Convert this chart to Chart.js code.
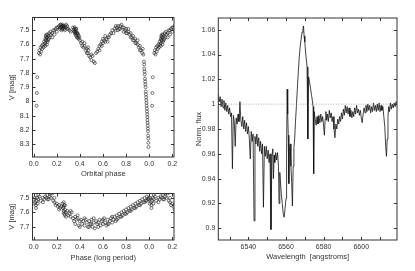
<!DOCTYPE html>
<html>
<head>
<meta charset="utf-8">
<script src="https://cdn.jsdelivr.net/npm/chart.js@4.4.0/dist/chart.umd.min.js"></script>
<style>
  body { margin: 0; background: #fff; }
  #wrap { position: relative; width: 415px; height: 271px; }
  canvas { position: absolute; }
</style>
</head>
<body>
<div id="wrap">
  <canvas id="orbital" width="190" height="180" style="left:0;top:0"></canvas>
  <canvas id="longp" width="190" height="95" style="left:0;top:176px"></canvas>
  <canvas id="spec" width="230" height="271" style="left:185px;top:0"></canvas>
</div>
<script>
// V light curve folded on the orbital period
const orbPhase = [
  0.025, 0.028, 0.031,
  0.045, 0.05, 0.055, 0.06, 0.065, 0.07, 0.075, 0.08, 0.085,
  0.09, 0.095, 0.10, 0.10, 0.105, 0.11, 0.11, 0.115, 0.12, 0.125, 0.13, 0.135, 0.14, 0.145, 0.15,
  0.16, 0.17, 0.18, 0.19, 0.20, 0.21,
  0.22, 0.225, 0.23, 0.235, 0.24, 0.245, 0.25, 0.255, 0.26, 0.265, 0.27, 0.28, 0.29, 0.30, 0.31, 0.32,
  0.34, 0.345, 0.35, 0.355, 0.36, 0.36, 0.365, 0.37, 0.37, 0.375, 0.38, 0.385, 0.39, 0.395,
  0.40, 0.41, 0.42, 0.43, 0.44, 0.45, 0.46, 0.47, 0.475, 0.48,
  0.49, 0.50, 0.50, 0.51, 0.52, 0.53,
  0.54, 0.55, 0.56, 0.57, 0.58, 0.59, 0.60, 0.61, 0.62, 0.63, 0.64, 0.65, 0.66,
  0.67, 0.68, 0.69, 0.70, 0.71, 0.72, 0.73, 0.74, 0.75, 0.76, 0.77,
  0.78, 0.79, 0.80, 0.81, 0.82, 0.83, 0.84, 0.85, 0.86, 0.87, 0.88, 0.89, 0.90, 0.91, 0.92, 0.93, 0.94, 0.945, 0.95,
  0.955, 0.957, 0.958, 0.960, 0.962, 0.964, 0.965, 0.967, 0.969, 0.970,
  0.972, 0.974, 0.975, 0.977, 0.978, 0.980, 0.981, 0.983, 0.984, 0.985,
  0.987, 0.988, 0.989, 0.990, 0.991, 0.992, 0.993, 0.994,
  0.10, 0.105, 0.11, 0.115, 0.12, 0.125, 0.16, 0.18, 0.20,
  0.23, 0.235, 0.24, 0.245, 0.25, 0.255, 0.26, 0.27, 0.28, 0.29,
  0.35, 0.355, 0.36, 0.365, 0.37, 0.375, 0.38, 0.39,
  0.42, 0.44, 0.46, 0.47, 0.57, 0.59, 0.60, 0.62, 0.64,
  0.71, 0.73, 0.75, 0.78, 0.80, 0.82, 0.84, 0.86, 0.88, 0.90, 0.92
];
const orbMag = [
  8.03, 7.94, 7.83,
  7.66, 7.64, 7.67, 7.62, 7.65, 7.61, 7.63, 7.60, 7.62,
  7.58, 7.60, 7.56, 7.59, 7.54, 7.57, 7.53, 7.55, 7.58, 7.54, 7.56, 7.52, 7.55, 7.51, 7.53,
  7.52, 7.50, 7.53, 7.49, 7.51, 7.48,
  7.47, 7.49, 7.46, 7.48, 7.47, 7.49, 7.46, 7.48, 7.47, 7.49, 7.47, 7.48, 7.47, 7.49, 7.50, 7.51,
  7.48, 7.50, 7.49, 7.51, 7.50, 7.53, 7.52, 7.49, 7.54, 7.52, 7.55, 7.53, 7.56, 7.55,
  7.57, 7.59, 7.58, 7.62, 7.61, 7.64, 7.63, 7.66, 7.64, 7.68,
  7.69, 7.67, 7.71, 7.68, 7.72, 7.73,
  7.66, 7.65, 7.63, 7.61, 7.60, 7.58, 7.56, 7.57, 7.54, 7.56, 7.58, 7.55, 7.53,
  7.52, 7.50, 7.52, 7.49, 7.50, 7.48, 7.47, 7.49, 7.47, 7.46, 7.48,
  7.48, 7.50, 7.49, 7.52, 7.51, 7.53, 7.52, 7.55, 7.54, 7.57, 7.56, 7.59, 7.60, 7.62, 7.61, 7.64, 7.66, 7.63, 7.67,
  7.72, 7.74, 7.77, 7.79, 7.81, 7.84, 7.86, 7.88, 7.90, 7.93,
  7.95, 7.97, 7.99, 8.01, 8.03, 8.05, 8.07, 8.09, 8.11, 8.13,
  8.15, 8.17, 8.19, 8.21, 8.24, 8.26, 8.29, 8.32,
  7.61, 7.57, 7.55, 7.60, 7.53, 7.57, 7.55, 7.50, 7.48,
  7.48, 7.46, 7.50, 7.47, 7.49, 7.47, 7.48, 7.50, 7.46, 7.49,
  7.51, 7.48, 7.52, 7.49, 7.51, 7.55, 7.52, 7.54,
  7.61, 7.59, 7.66, 7.62, 7.64, 7.61, 7.59, 7.58, 7.55,
  7.47, 7.50, 7.49, 7.51, 7.52, 7.49, 7.55, 7.57, 7.59, 7.57, 7.64
];

// V folded on the long period
const lpPhase = [
  0.00, 0.005, 0.01, 0.015, 0.02, 0.025, 0.03, 0.035, 0.04, 0.05,
  0.06, 0.07, 0.08, 0.09, 0.10, 0.11, 0.12, 0.13, 0.14, 0.15,
  0.16, 0.17, 0.18, 0.19, 0.20, 0.21, 0.22, 0.23, 0.24, 0.25,
  0.255, 0.26, 0.26, 0.265, 0.265, 0.27, 0.27, 0.28, 0.29, 0.30,
  0.31, 0.32, 0.33, 0.34, 0.35, 0.36, 0.37, 0.38, 0.39, 0.40,
  0.41, 0.42, 0.43, 0.44, 0.45, 0.46, 0.47, 0.48, 0.49, 0.50,
  0.51, 0.52, 0.53, 0.54, 0.55, 0.56, 0.57, 0.58, 0.59, 0.60,
  0.61, 0.62, 0.63, 0.64, 0.65, 0.66, 0.67, 0.68, 0.69, 0.70,
  0.71, 0.72, 0.73, 0.74, 0.75, 0.76, 0.77, 0.78, 0.79, 0.80,
  0.81, 0.82, 0.83, 0.84, 0.85, 0.86, 0.87, 0.88, 0.89, 0.90,
  0.91, 0.92, 0.93, 0.94, 0.95, 0.96, 0.97, 0.98, 0.99, 0.995,
  0.02, 0.04, 0.08, 0.12, 0.14, 0.18, 0.22, 0.26, 0.26, 0.27,
  0.28, 0.32, 0.36, 0.38, 0.40, 0.44, 0.48, 0.50, 0.52, 0.56,
  0.60, 0.64, 0.68, 0.72, 0.76, 0.80, 0.84, 0.88, 0.92, 0.96, 0.98
];
const lpMag = [
  7.51, 7.54, 7.50, 7.53, 7.55, 7.52, 7.50, 7.54, 7.51, 7.49,
  7.52, 7.46, 7.50, 7.51, 7.49, 7.50, 7.48, 7.51, 7.49, 7.50,
  7.47, 7.52, 7.53, 7.55, 7.54, 7.56, 7.55, 7.57, 7.56, 7.54,
  7.57, 7.53, 7.59, 7.55, 7.61, 7.58, 7.62, 7.60, 7.59, 7.62,
  7.61, 7.63, 7.60, 7.64, 7.66, 7.63, 7.65, 7.64, 7.69, 7.66,
  7.65, 7.68, 7.66, 7.69, 7.65, 7.67, 7.70, 7.66, 7.68, 7.65,
  7.70, 7.67, 7.71, 7.66, 7.68, 7.67, 7.65, 7.69, 7.66, 7.68,
  7.64, 7.67, 7.69, 7.65, 7.68, 7.66, 7.64, 7.67, 7.65, 7.63,
  7.66, 7.62, 7.64, 7.61, 7.63, 7.60, 7.62, 7.59, 7.61, 7.58,
  7.60, 7.57, 7.59, 7.56, 7.58, 7.55, 7.57, 7.54, 7.56, 7.53,
  7.55, 7.52, 7.54, 7.51, 7.53, 7.50, 7.52, 7.49, 7.51, 7.50,
  7.57, 7.48, 7.53, 7.51, 7.47, 7.50, 7.58, 7.56, 7.60, 7.55,
  7.63, 7.59, 7.68, 7.62, 7.70, 7.64, 7.70, 7.68, 7.64, 7.70,
  7.65, 7.68, 7.63, 7.65, 7.63, 7.61, 7.59, 7.57, 7.55, 7.53, 7.52
];

// normalised spectrum around H-alpha
const wave = [
  6524.0, 6524.5, 6525.0, 6525.5, 6526.0, 6526.5, 6527.0, 6527.5, 6528.0, 6528.5,
  6529.0, 6529.5, 6530.0, 6530.5, 6531.0, 6531.5, 6532.0, 6532.5, 6533.0, 6533.5,
  6534.0, 6534.5, 6535.0, 6535.5, 6536.0, 6536.5, 6537.0, 6537.5, 6538.0, 6538.5,
  6539.0, 6539.5, 6540.0, 6540.5, 6541.0, 6541.5, 6542.0, 6542.5, 6543.0, 6543.5,
  6544.0, 6544.5, 6545.0, 6545.5, 6546.0, 6546.5, 6547.0, 6547.5, 6548.0, 6548.5,
  6549.0, 6549.5, 6550.0, 6550.5, 6551.0, 6551.5, 6552.0, 6552.5, 6553.0, 6553.3,
  6553.7, 6554.0, 6554.5, 6555.0, 6555.5, 6556.0, 6556.3, 6556.7, 6557.0, 6557.5,
  6558.0, 6558.5, 6559.0, 6559.5, 6560.0, 6560.3, 6560.6, 6560.9, 6561.2, 6561.5,
  6561.8, 6562.2, 6562.6, 6563.0, 6563.4, 6563.8, 6564.2, 6564.6, 6565.0, 6565.5,
  6566.0, 6566.5, 6567.0, 6567.5, 6568.0, 6568.5, 6569.0, 6569.3, 6569.6, 6570.0,
  6570.4, 6570.8, 6571.2, 6571.6, 6572.0, 6572.5, 6573.0, 6573.5, 6574.0, 6574.4,
  6574.7, 6575.0, 6575.5, 6576.0, 6576.5, 6577.0, 6577.5, 6578.0, 6578.5, 6579.0,
  6579.5, 6580.0, 6580.4, 6580.8, 6581.2, 6581.6, 6582.0, 6582.5, 6583.0, 6583.5,
  6584.0, 6584.5, 6585.0, 6585.5, 6586.0, 6586.5, 6587.0, 6587.5, 6588.0, 6588.5,
  6589.0, 6589.5, 6590.0, 6590.5, 6591.0, 6591.5, 6592.0, 6592.5, 6593.0, 6593.5,
  6594.0, 6594.5, 6595.0, 6595.5, 6596.0, 6596.5, 6597.0, 6597.5, 6598.0, 6598.5,
  6599.0, 6599.5, 6600.0, 6600.5, 6601.0, 6601.5, 6602.0, 6602.5, 6603.0, 6603.5,
  6604.0, 6604.5, 6605.0, 6605.5, 6606.0, 6606.5, 6607.0, 6607.5, 6608.0, 6608.5,
  6609.0, 6609.5, 6610.0, 6610.5, 6611.0, 6611.5, 6612.0, 6612.5, 6613.0, 6613.4,
  6613.8, 6614.2, 6614.6, 6615.0, 6615.5, 6616.0, 6616.5, 6617.0, 6617.5, 6618.0,
  6618.5, 6619.0
];
const flux = [
  1.008, 1.002, 1.006, 0.998, 1.004, 0.997, 1.003, 0.995, 1.001, 0.994,
  0.999, 0.992, 0.997, 0.990, 0.993, 0.948, 0.991, 0.986, 0.966, 0.989,
  0.984, 0.992, 0.986, 1.002, 0.987, 0.982, 0.990, 0.980, 0.987, 0.978,
  0.985, 0.976, 0.982, 0.972, 0.956, 0.978, 0.970, 0.976, 0.906, 0.974,
  0.968, 0.976, 0.966, 0.973, 0.962, 0.970, 0.960, 0.968, 0.917, 0.966,
  0.958, 0.966, 0.956, 0.963, 0.953, 0.960, 0.899, 0.958, 0.964, 0.940,
  0.959, 0.953, 0.961, 0.955, 0.961, 0.950, 0.920, 0.945, 0.938, 0.928,
  0.920, 0.912, 0.909, 0.916, 0.924, 0.960, 1.012, 0.992, 0.975, 0.936,
  0.962, 0.968, 0.950, 0.937, 0.918, 0.950, 0.965, 0.972, 0.985, 0.998,
  1.012, 1.025, 1.037, 1.046, 1.052, 1.058, 1.061, 1.063, 1.055, 1.050,
  1.042, 1.036, 1.030, 0.972, 1.022, 1.018, 1.013, 1.008, 1.003, 0.998,
  0.944, 0.994, 0.988, 0.983, 0.990, 0.984, 0.991, 0.985, 0.992, 0.986,
  0.990, 0.982, 0.975, 0.988, 0.994, 0.987, 0.992, 0.986, 0.995, 0.989,
  0.993, 0.986, 0.990, 0.980, 0.973, 0.984, 0.980, 0.988, 0.984, 0.990,
  0.986, 0.993, 0.988, 0.996, 0.991, 0.999, 0.993, 0.998, 0.992, 0.997,
  0.990, 0.995, 0.989, 0.994, 0.990, 0.997, 0.992, 0.999, 0.993, 0.996,
  0.991, 0.995, 0.989, 0.985, 0.992, 0.997, 0.993, 0.999, 0.994, 1.000,
  0.995, 0.999, 0.993, 0.998, 0.994, 1.001, 0.995, 0.999, 0.994, 1.000,
  0.995, 1.001, 0.994, 0.999, 0.995, 0.998, 0.990, 0.982, 0.966, 0.958,
  0.972, 0.990, 0.998, 0.994, 1.001, 0.996, 1.000, 0.997, 1.001, 0.998,
  1.002, 1.000
];

const phaseTicks = [0, 0.2, 0.4, 0.6, 0.8, 1.0, 1.2];
const orbMagTicks = [7.5, 7.6, 7.7, 7.8, 7.9, 8.0, 8.1, 8.2, 8.3];
const lpMagTicks = [7.5, 7.6, 7.7];
const waveTicks = [6530, 6540, 6550, 6560, 6570, 6580, 6590, 6600, 6610];
const fluxTicks = [0.9, 0.92, 0.94, 0.96, 0.98, 1, 1.02, 1.04, 1.06];

const FONT = "'Liberation Sans', Arial, sans-serif";
const INK = '#333';

// points with phase below 0.22 are plotted a second time one cycle later
const folded = (ph, mag) => {
  const pts = [];
  ph.forEach((p, i) => {
    pts.push({ x: p, y: mag[i] });
    if (p < 0.225) pts.push({ x: p + 1, y: mag[i] });
  });
  return pts;
};

// gnuplot-like box with inward ticks on every side
const frame = {
  id: 'frame',
  afterDraw(chart) {
    const { ctx, chartArea: a, scales: { x, y } } = chart;
    ctx.save();
    ctx.strokeStyle = INK;
    ctx.lineWidth = 1;
    ctx.strokeRect(a.left, a.top, a.right - a.left, a.bottom - a.top);
    ctx.beginPath();
    x.ticks.forEach(t => {
      const px = Math.round(x.getPixelForValue(t.value)) + 0.5;
      ctx.moveTo(px, a.bottom); ctx.lineTo(px, a.bottom - 3);
      ctx.moveTo(px, a.top); ctx.lineTo(px, a.top + 3);
    });
    y.ticks.forEach(t => {
      const py = Math.round(y.getPixelForValue(t.value)) + 0.5;
      ctx.moveTo(a.left, py); ctx.lineTo(a.left + 3, py);
      ctx.moveTo(a.right, py); ctx.lineTo(a.right - 3, py);
    });
    ctx.stroke();
    ctx.restore();
  }
};

const setTicks = vals => scale => { scale.ticks = vals.map(v => ({ value: v })); };
const plain = v => String(Number(v.toFixed(3)));

function axis(o) {
  return {
    type: 'linear',
    min: o.min, max: o.max,
    reverse: !!o.reverse,
    grid: { display: false, drawTicks: false },
    border: { display: false },
    afterBuildTicks: setTicks(o.ticks),
    afterFit: s => { if (o.width) s.width = o.width; if (o.height) s.height = o.height; },
    ticks: {
      autoSkip: false, maxRotation: 0, padding: 3,
      color: INK, font: { family: FONT, size: 7 },
      callback: o.label || plain
    },
    title: {
      display: true, text: o.title, color: INK,
      font: { family: FONT, size: 7.5 },
      padding: o.titlePad
    }
  };
}

const phaseLabel = v => ((Math.round(v * 10) % 10) / 10).toFixed(1);
const dots = { pointRadius: 1.5, pointBorderWidth: 0.6, borderColor: '#222', backgroundColor: 'rgba(0,0,0,0)', showLine: false };

Chart.defaults.animation = false;

new Chart(document.getElementById('orbital'), {
  type: 'scatter',
  data: { datasets: [Object.assign({ data: folded(orbPhase, orbMag) }, dots)] },
  options: {
    responsive: false,
    layout: { padding: { top: 17.5, right: 16, left: 0, bottom: 0 } },
    plugins: { legend: { display: false }, tooltip: { enabled: false } },
    scales: {
      x: axis({ min: -0.01, max: 1.215, ticks: phaseTicks, label: phaseLabel, height: 23, title: 'Orbital phase', titlePad: { top: 0, bottom: 1.5 } }),
      y: axis({ min: 7.41, max: 8.39, reverse: true, ticks: orbMagTicks, width: 32.5, title: 'V [mag]', titlePad: { top: 7, bottom: 0 } })
    }
  },
  plugins: [frame]
});

new Chart(document.getElementById('longp'), {
  type: 'scatter',
  data: { datasets: [Object.assign({ data: folded(lpPhase, lpMag) }, dots)] },
  options: {
    responsive: false,
    layout: { padding: { top: 17.5, right: 16, left: 0, bottom: 0 } },
    plugins: { legend: { display: false }, tooltip: { enabled: false } },
    scales: {
      x: axis({ min: -0.01, max: 1.215, ticks: phaseTicks, label: phaseLabel, height: 31, title: 'Phase (long period)', titlePad: { top: 0, bottom: 8.8 } }),
      y: axis({ min: 7.47, max: 7.79, reverse: true, ticks: lpMagTicks, width: 32.5, title: 'V [mag]', titlePad: { top: 7, bottom: 0 } })
    }
  },
  plugins: [frame]
});

new Chart(document.getElementById('spec'), {
  type: 'line',
  data: {
    datasets: [
      {
        data: [{ x: 6524, y: 1 }, { x: 6619, y: 1 }],
        borderColor: '#999', borderWidth: 0.8, borderDash: [1, 1.5], pointRadius: 0
      },
      {
        data: wave.map((w, i) => ({ x: w, y: flux[i] })),
        borderColor: '#111', borderWidth: 0.8, pointRadius: 0, tension: 0
      }
    ]
  },
  options: {
    responsive: false,
    layout: { padding: { top: 18, right: 18, left: 0, bottom: 0 } },
    plugins: { legend: { display: false }, tooltip: { enabled: false } },
    scales: {
      x: axis({ min: 6524, max: 6619, ticks: waveTicks, label: v => (v % 20 === 0 ? String(v) : ''), height: 31, title: 'Wavelength  [angstroms]', titlePad: { top: 0, bottom: 9.2 } }),
      y: axis({ min: 0.8906, max: 1.0694, ticks: fluxTicks, width: 33.3, title: 'Norm. flux', titlePad: { top: 9.5, bottom: 0 } })
    }
  },
  plugins: [frame]
});
</script>
</body>
</html>
